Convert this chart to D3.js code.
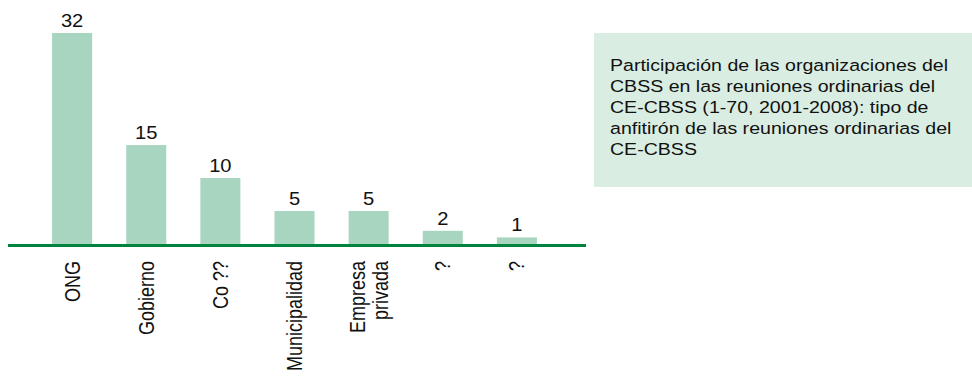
<!DOCTYPE html>
<html>
<head>
<meta charset="utf-8">
<script src="https://cdn.jsdelivr.net/npm/d3@7"></script>
<style>
  html, body { margin: 0; padding: 0; background: #fff; }
  svg { display: block; font-family: "Liberation Sans", Arial, sans-serif; }
</style>
</head>
<body>
<svg id="chart" width="972" height="381"></svg>
<script>
// datos
const categories = ["ONG", "Gobierno", "Co ??", "Municipalidad", "Empresa\nprivada", "?", "?"];
const values = [32, 15, 10, 5, 5, 2, 1];
const noteLines = [
  "Participación de las organizaciones del",
  "CBSS en las reuniones ordinarias del",
  "CE-CBSS (1-70, 2001-2008): tipo de",
  "anfitirón de las reuniones ordinarias del",
  "CE-CBSS"
];

const barColor = "#a8d5bf";
const axisColor = "#00843d";
const boxColor = "#daede2";
const stretch = 1.2; // el original viene estirado en horizontal

const svg = d3.select("#chart");
const baseY = 244;

// escalas
const x = d3.scaleBand()
  .domain(d3.range(categories.length))
  .range([18, 571])
  .paddingInner(0.46)
  .paddingOuter(0.46);

const y = d3.scaleLinear()
  .domain([0, 32])
  .range([baseY, 33]);

// barras
svg.append("g").selectAll("rect")
  .data(values)
  .join("rect")
  .attr("x", (d, i) => x(i))
  .attr("y", d => y(d))
  .attr("width", x.bandwidth())
  .attr("height", d => baseY - y(d))
  .attr("fill", barColor);

// etiquetas de valor
svg.append("g").selectAll("text")
  .data(values)
  .join("text")
  .attr("transform", (d, i) => `translate(${x(i) + x.bandwidth() / 2},${y(d) - 6}) scale(1.12,1)`)
  .attr("text-anchor", "middle")
  .style("font-size", "18px")
  .style("fill", "#111")
  .text(d => d);

// eje
svg.append("line")
  .attr("x1", 8).attr("x2", 586)
  .attr("y1", baseY + 1.5).attr("y2", baseY + 1.5)
  .attr("stroke", axisColor)
  .attr("stroke-width", 3);

// categorias (rotadas)
const cat = svg.append("g").selectAll("text")
  .data(categories)
  .join("text")
  .attr("text-anchor", "end")
  .style("font-size", "18px")
  .style("fill", "#111")
  .attr("transform", (d, i) => {
    const cx = x(i) + x.bandwidth() / 2;
    return `translate(${cx},${baseY + 17}) scale(${stretch},1) rotate(-90)`;
  });

cat.each(function(d) {
  const lines = d.split("\n");
  const lh = 19;
  const off = -(lines.length - 1) * lh / 2;
  d3.select(this).selectAll("tspan")
    .data(lines)
    .join("tspan")
    .attr("x", 0)
    .attr("y", (l, j) => off + j * lh)
    .attr("dy", "0.35em")
    .text(l => l);
});

// cuadro de texto
svg.append("rect")
  .attr("x", 594).attr("y", 33)
  .attr("width", 378).attr("height", 154)
  .attr("fill", boxColor);

svg.append("g")
  .attr("transform", `translate(610,0) scale(${stretch},1)`)
  .selectAll("text")
  .data(noteLines)
  .join("text")
  .attr("x", 0)
  .attr("y", (d, i) => 71 + i * 21)
  .style("font-size", "16.3px")
  .style("fill", "#111")
  .text(d => d);
</script>
</body>
</html>
